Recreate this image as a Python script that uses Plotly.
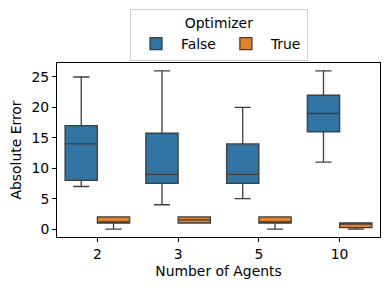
import plotly.graph_objects as go

categories = ["2", "3", "5", "10"]
# Optimizer = False
false_min = [7, 4, 5, 11]
false_q1 = [8, 7.5, 7.5, 16]
false_med = [14, 9, 9, 19]
false_q3 = [17, 15.75, 14, 22]
false_max = [25, 26, 20, 26]
# Optimizer = True
true_min = [0, 1, 0, 0]
true_q1 = [1, 1, 1, 0.25]
true_med = [1, 1.5, 1, 1]
true_q3 = [2, 2, 2, 1]
true_max = [2, 2, 2, 1]

edge = "#3f3f3f"
fig = go.Figure()
fig.add_trace(go.Box(
    name="False", x=categories, q1=false_q1, median=false_med, q3=false_q3,
    lowerfence=false_min, upperfence=false_max,
    fillcolor="#3274a1", line=dict(color=edge, width=1.3), whiskerwidth=0.5,
    boxpoints=False, hoverinfo="skip",
))
fig.add_trace(go.Box(
    name="True", x=categories, q1=true_q1, median=true_med, q3=true_q3,
    lowerfence=true_min, upperfence=true_max,
    fillcolor="#e1812c", line=dict(color=edge, width=1.3), whiskerwidth=0.5,
    boxpoints=False, hoverinfo="skip",
))

font = "DejaVu Sans"
fs = 13.9
fig.update_layout(
    width=390, height=290,
    margin=dict(l=57, r=10, t=63, b=53, autoexpand=False),
    paper_bgcolor="white", plot_bgcolor="white",
    boxmode="group", boxgap=0.2, boxgroupgap=0,
    font=dict(family=font, size=fs, color="black"),
    showlegend=True,
    legend=dict(
        orientation="h", x=219 / 390, xanchor="center", xref="container",
        y=1 - 9 / 290, yanchor="top", yref="container",
        title=dict(text="Optimizer", side="top center", font=dict(size=fs)),
        bordercolor="#d0d0d0", borderwidth=1, font=dict(size=fs),
        itemwidth=40, tracegroupgap=0,
    ),
    xaxis=dict(
        type="category", categoryorder="array", categoryarray=categories,
        range=[-0.5, 3.5], showline=True, linecolor="black", linewidth=1,
        mirror=True, ticks="outside", ticklen=4, tickcolor="black",
        showgrid=False, zeroline=False, automargin=False,
        title=dict(text="Number of Agents", font=dict(size=fs), standoff=5),
        tickfont=dict(size=fs),
    ),
    yaxis=dict(
        range=[-1.3, 27.3], tickvals=[0, 5, 10, 15, 20, 25],
        showline=True, linecolor="black", linewidth=1, mirror=True,
        ticks="outside", ticklen=4, tickcolor="black",
        showgrid=False, zeroline=False, automargin=False,
        title=dict(text="Absolute Error", font=dict(size=fs), standoff=6),
        tickfont=dict(size=fs),
    ),
)
fig.write_html("out.html", config={"displayModeBar": False},
               post_script="document.body.style.margin='0';")
